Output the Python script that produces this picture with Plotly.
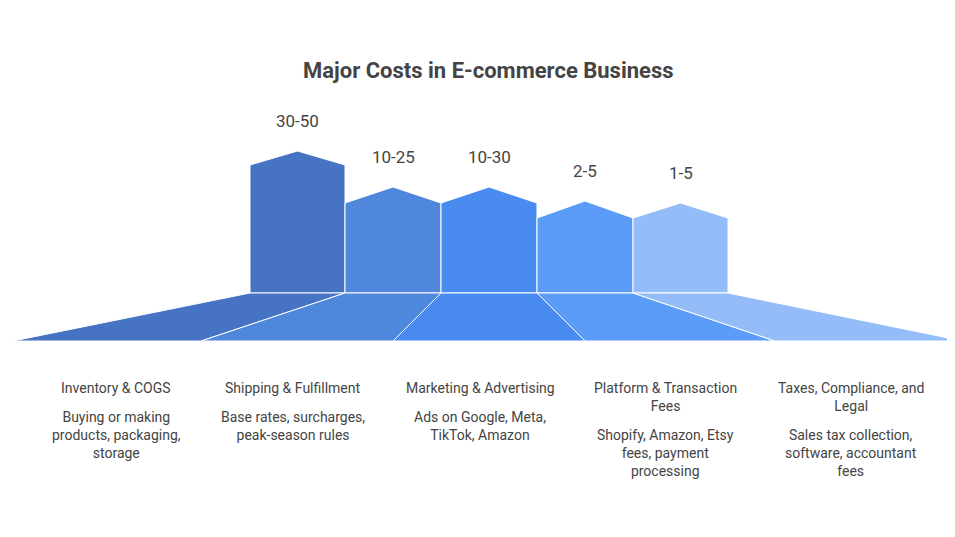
import plotly.graph_objects as go

categories = ["Inventory & COGS", "Shipping & Fulfillment", "Marketing & Advertising",
              "Platform & Transaction<br>Fees", "Taxes, Compliance, and<br>Legal"]
descriptions = ["Buying or making<br>products, packaging,<br>storage",
                "Base rates, surcharges,<br>peak-season rules",
                "Ads on Google, Meta,<br>TikTok, Amazon",
                "Shopify, Amazon, Etsy<br>fees, payment<br>processing",
                "Sales tax collection,<br>software, accountant<br>fees"]
value_labels = ["30-50", "10-25", "10-30", "2-5", "1-5"]
column_heights = [128, 90, 90, 75, 75]
roof_heights = [14, 16, 16, 17, 15]
colors = ["#4773c5", "#4f87dd", "#4a8bf0", "#5b9cf9", "#94bcf9"]

col_edges = [242, 337, 433, 529, 625, 720]
floor_bottom = [5, 193, 385, 577, 767, 955]
base_y, floor_y = 285, 333
text_x = [108, 285, 472, 657, 843]

fig = go.Figure()
for i in range(5):
    x0, x1 = col_edges[i], col_edges[i + 1]
    top = base_y - column_heights[i]
    peak = top - roof_heights[i]
    fig.add_trace(go.Scatter(x=[x0, x0, (x0 + x1) / 2, x1, x1, x0],
                             y=[base_y, top, peak, top, base_y, base_y],
                             fill="toself", fillcolor=colors[i], mode="lines",
                             line=dict(color="white", width=1), hoverinfo="skip"))
    fig.add_trace(go.Scatter(x=[x0, x1, floor_bottom[i + 1], floor_bottom[i], x0],
                             y=[base_y, base_y, floor_y, floor_y, base_y],
                             fill="toself", fillcolor=colors[i], mode="lines",
                             line=dict(color="white", width=1), hoverinfo="skip"))
    fig.add_annotation(x=(x0 + x1) / 2, y=peak - 18, text=value_labels[i], showarrow=False,
                       yanchor="bottom", font=dict(size=17, color="#444"))
    fig.add_annotation(x=text_x[i], y=370, text=categories[i], showarrow=False,
                       yanchor="top", font=dict(size=14, color="#444"))
    dy = 399 if "<br>" not in categories[i] else 417
    fig.add_annotation(x=text_x[i], y=dy, text=descriptions[i], showarrow=False,
                       yanchor="top", font=dict(size=14, color="#444"))

fig.add_annotation(x=480, y=62, text="<b>Major Costs in E-commerce Business</b>", showarrow=False,
                   font=dict(size=22, color="#444"))
fig.update_layout(width=955, height=537, margin=dict(l=0, r=0, t=0, b=0),
                  plot_bgcolor="white", paper_bgcolor="white", showlegend=False,
                  font=dict(family="Roboto"),
                  xaxis=dict(range=[0, 955], visible=False, fixedrange=True),
                  yaxis=dict(range=[537, 0], visible=False, fixedrange=True))
fig.write_html("out.html")
